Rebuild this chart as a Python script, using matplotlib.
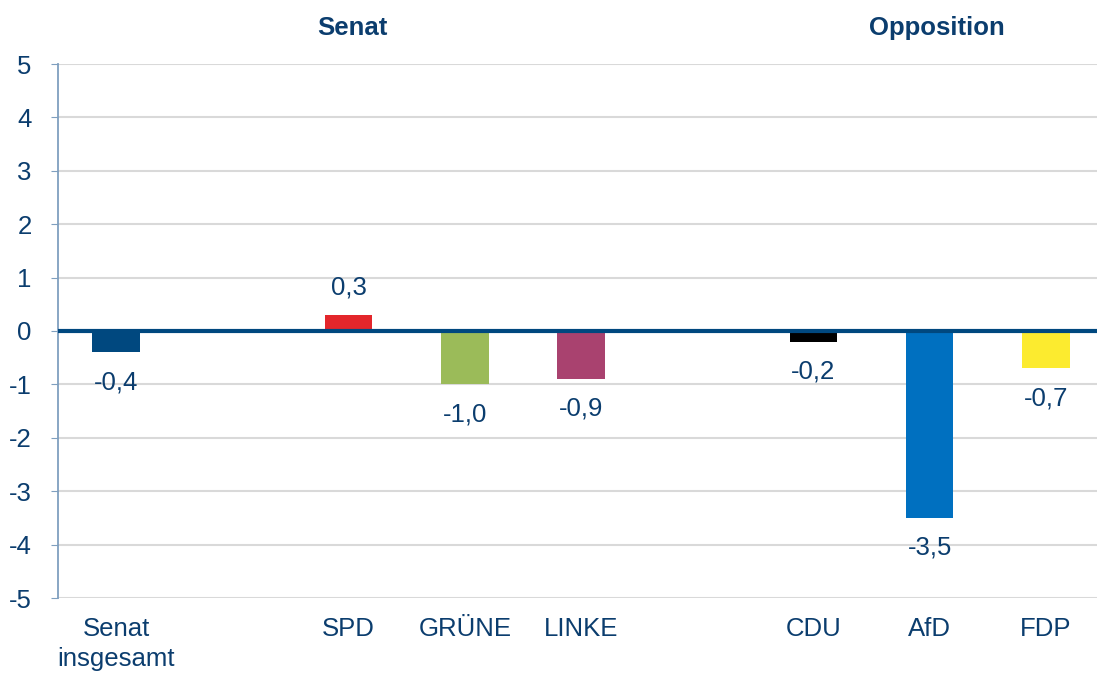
import matplotlib
matplotlib.use("Agg")
import matplotlib.pyplot as plt
import numpy as np

plt.rcParams['font.family'] = ['Liberation Sans', 'DejaVu Sans']
plt.rcParams['axes.unicode_minus'] = False

# Daten
senat_labels = ['Senat\ninsgesamt', 'SPD', 'GRÜNE', 'LINKE']
senat_values = [-0.4, 0.3, -1.0, -0.9]
opp_labels = ['CDU', 'AfD', 'FDP']
opp_values = [-0.2, -3.5, -0.7]
group_titles = ['Senat', 'Opposition']

bar_colors = ['#00487F', '#E3262B', '#9BBB59', '#A9426F',
              '#000000', '#0070C0', '#FCEB2F']
text_color = '#0B3D6E'
axis_color = '#7F9FBF'

# x-Positionen: leerer Platz nach "Senat insgesamt" und zwischen den Gruppen
labels = senat_labels + opp_labels
values = senat_values + opp_values
x = np.array([0, 2, 3, 4, 6, 7, 8])

fs = 18.5

fig = plt.figure(figsize=(10.97, 6.73), dpi=100)
ax = fig.add_axes([58 / 1097, 75 / 673, 1 - 58 / 1097, 534 / 673])

ax.bar(x, values, width=0.41, color=bar_colors, zorder=3)
ax.axhline(0, color='#00487F', lw=3, zorder=4)

for xi, v in zip(x, values):
    off = 20 if v > 0 else -21.5
    ax.annotate(f'{v:.1f}'.replace('.', ','), (xi, v), xytext=(0, off),
                textcoords='offset points', ha='center', va='center',
                fontsize=fs, color=text_color)

ax.set_xlim(-0.5, 8.44)
ax.set_ylim(-5, 5)
ax.set_yticks(range(-5, 6))
ax.yaxis.grid(True, color='#D9D9D9', lw=1.5, zorder=0)
ax.set_axisbelow(True)

ax.set_xticks(x)
ax.set_xticklabels(labels, fontsize=fs, color=text_color, linespacing=1.3)
ax.tick_params(axis='x', length=0, pad=14)
ax.tick_params(axis='y', length=5, color=axis_color, labelsize=fs,
               labelcolor=text_color, pad=14)
for lab in ax.get_yticklabels():
    lab.set_horizontalalignment('right')

for s in ['top', 'right', 'bottom']:
    ax.spines[s].set_visible(False)
ax.spines['left'].set_color(axis_color)
ax.spines['left'].set_linewidth(1.3)

ax.text(2.03, 5.67, group_titles[0], ha='center', va='center',
        fontsize=fs, fontweight='bold', color=text_color)
ax.text(7.06, 5.67, group_titles[1], ha='center', va='center',
        fontsize=fs, fontweight='bold', color=text_color)

fig.savefig('out.png', dpi=100)
